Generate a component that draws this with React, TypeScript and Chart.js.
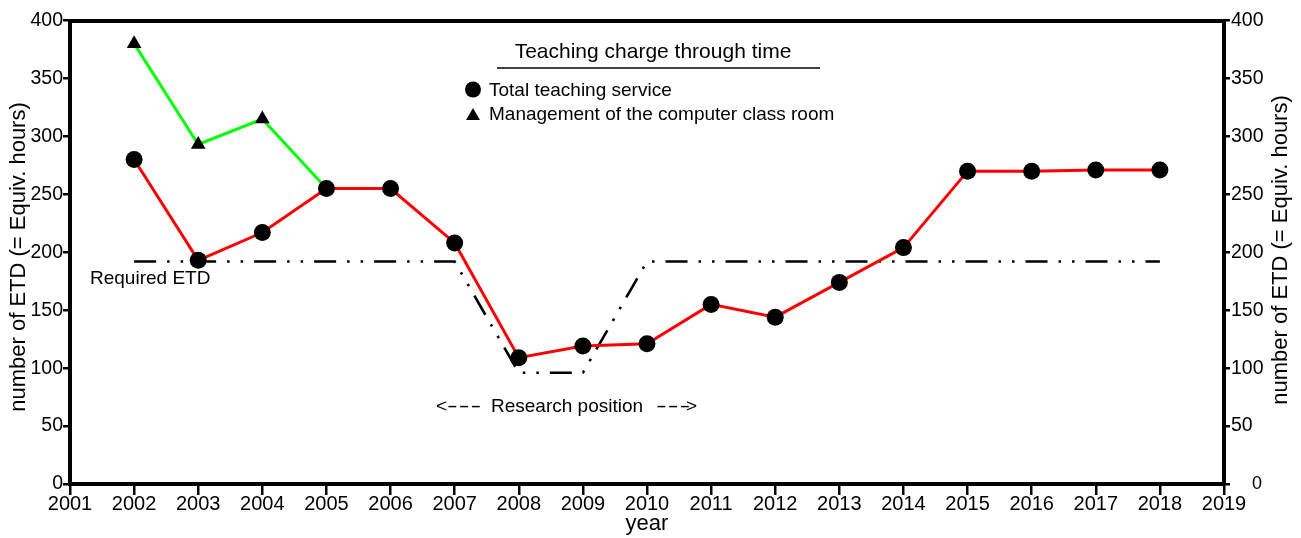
import React, { useEffect, useRef } from "react";
import { Chart, registerables } from "chart.js";

Chart.register(...registerables);

const FONT = "'Liberation Sans', Arial, Helvetica, sans-serif";

// ---- data ----
const years = [2002, 2003, 2004, 2005, 2006, 2007, 2008, 2009, 2010, 2011, 2012, 2013, 2014, 2015, 2016, 2017, 2018];
const totalService = [280, 193, 217, 255, 255, 208, 109, 119, 121, 155, 144, 174, 204, 270, 270, 271, 271];
const mgmtYears = [2002, 2003, 2004, 2005];
const mgmtValues = [380, 293, 315, 255];
const requiredYears = [2002, 2007, 2008, 2009, 2010, 2018];
const requiredValues = [192, 192, 96, 96, 192, 192];
const xMin = 2001;
const xMax = 2019;
const yMin = 0;
const yMax = 400;
const yStep = 50;

const titleText = "Teaching charge through time";
const legendLabels = ["Total teaching service", "Management of the computer class room"];
const yTitle = "number of ETD (= Equiv. hours)";
const xTitle = "year";
const requiredLabel = "Required ETD";
const researchLabel = "Research position";

function drawDashes(ctx: any, x: number, y: number) {
  ctx.save();
  ctx.translate(x, 0);
  ctx.scale(1.7, 1);
  try { ctx.letterSpacing = "0.6px"; } catch (e) {}
  ctx.fillText("---", 0, y);
  ctx.restore();
}

function drawVerticalTitle(ctx: any, x: number, y: number) {
  ctx.save();
  ctx.translate(x, y);
  ctx.rotate(-Math.PI / 2);
  ctx.textAlign = "center";
  ctx.textBaseline = "middle";
  ctx.fillText(yTitle, 0, 0);
  ctx.restore();
}

const overlayPlugin = {
  id: "overlay",
  afterDraw(chart: any) {
    const ctx = chart.ctx;
    ctx.save();
    ctx.fillStyle = "#000";
    ctx.strokeStyle = "#000";
    // title
    ctx.font = `21px ${FONT}`;
    ctx.textAlign = "center";
    ctx.textBaseline = "alphabetic";
    ctx.fillText(titleText, 653, 58);
    ctx.lineWidth = 1.5;
    ctx.beginPath();
    ctx.moveTo(497, 68);
    ctx.lineTo(820, 68);
    ctx.stroke();
    // legend
    ctx.font = `19px ${FONT}`;
    ctx.textAlign = "left";
    ctx.beginPath();
    ctx.arc(473, 89.5, 8, 0, Math.PI * 2);
    ctx.fill();
    ctx.fillText(legendLabels[0], 489, 96);
    const r = 8;
    const cx = 473, cy = 116;
    ctx.beginPath();
    ctx.moveTo(cx, cy - r);
    ctx.lineTo(cx + 0.866 * r, cy + 0.5 * r);
    ctx.lineTo(cx - 0.866 * r, cy + 0.5 * r);
    ctx.closePath();
    ctx.fill();
    ctx.fillText(legendLabels[1], 489, 120);
    // annotations
    ctx.fillText(requiredLabel, 90, 284);
    ctx.fillText("<", 436, 412);
    drawDashes(ctx, 447, 412);
    ctx.fillText(researchLabel, 491, 412);
    drawDashes(ctx, 656, 412);
    ctx.fillText(">", 686, 412);
    // right-axis zero label (offset in reference)
    ctx.font = `18px ${FONT}`;
    ctx.textBaseline = "middle";
    ctx.fillText("0", 1252, 484);
    // axis titles (both read bottom-to-top)
    ctx.font = `22px ${FONT}`;
    drawVerticalTitle(ctx, 18.5, 257);
    drawVerticalTitle(ctx, 1280.5, 250);
    ctx.restore();
  },
};

export default function App() {
  const ref = useRef<HTMLCanvasElement | null>(null);
  useEffect(() => {
    if (!ref.current) return;
    Chart.defaults.font.family = FONT;
    Chart.defaults.color = "#000";
    const xTickFont = { size: 20, family: FONT };
    const yTickFont = { size: 19.5, family: FONT };
    const titleFont = { size: 22, family: FONT };
    const chart = new Chart(ref.current, {
      type: "line",
      data: {
        datasets: [
          {
            label: legendLabels[0],
            data: years.map((x, i) => ({ x, y: totalService[i] })),
            borderColor: "#ff0000",
            borderWidth: 3,
            pointRadius: 8.5,
            pointBackgroundColor: "#000",
            pointBorderColor: "#000",
            pointBorderWidth: 0,
            tension: 0,
          },
          {
            label: legendLabels[1],
            data: mgmtYears.map((x, i) => ({ x, y: mgmtValues[i] })),
            borderColor: "#00ff00",
            borderWidth: 3,
            pointStyle: "triangle",
            pointRadius: [8.5, 8.5, 8.5, 0],
            pointBackgroundColor: "#000",
            pointBorderColor: "#000",
            pointBorderWidth: 0,
            tension: 0,
          },
          {
            label: requiredLabel,
            data: requiredYears.map((x, i) => ({ x, y: requiredValues[i] })),
            borderColor: "#000",
            borderWidth: 2.6,
            borderDash: [22, 11, 2.5, 11, 2.5, 11],
            borderCapStyle: "butt",
            pointRadius: 0,
            tension: 0,
          },
        ],
      },
      options: {
        animation: false,
        responsive: false,
        maintainAspectRatio: false,
        layout: { padding: 0 },
        plugins: { legend: { display: false }, tooltip: { enabled: false }, title: { display: false } },
        scales: {
          x: {
            type: "linear",
            position: "bottom",
            min: xMin,
            max: xMax,
            afterFit: (s: any) => { s.height = 54; },
            ticks: { stepSize: 1, font: xTickFont, padding: -3, callback: (v: any) => String(v), maxRotation: 0, autoSkip: false },
            grid: { drawOnChartArea: false, drawTicks: true, tickLength: 11, color: "#000", lineWidth: 2.5 },
            border: { display: true, width: 4, color: "#000" },
            title: { display: true, text: xTitle, font: titleFont, padding: { top: 0, bottom: 1 } },
          },
          x2: {
            type: "linear",
            position: "top",
            min: xMin,
            max: xMax,
            afterFit: (s: any) => { s.height = 20.5; },
            ticks: { display: false },
            grid: { drawOnChartArea: false, drawTicks: false },
            border: { display: true, width: 4, color: "#000" },
          },
          y: {
            type: "linear",
            position: "left",
            min: yMin,
            max: yMax,
            afterFit: (s: any) => { s.width = 70; },
            ticks: { stepSize: yStep, font: yTickFont, padding: 0 },
            grid: { drawOnChartArea: false, drawTicks: true, tickLength: 7, color: "#000", lineWidth: 2.5 },
            border: { display: true, width: 4, color: "#000" },
          },
          y2: {
            type: "linear",
            position: "right",
            min: yMin,
            max: yMax,
            afterFit: (s: any) => { s.width = 77; },
            ticks: { stepSize: yStep, font: yTickFont, padding: 1, callback: (v: any) => (v === 0 ? "" : String(v)) },
            grid: { drawOnChartArea: false, drawTicks: true, tickLength: 6, color: "#000", lineWidth: 2.5 },
            border: { display: true, width: 4, color: "#000" },
          },
        },
      },
      plugins: [overlayPlugin],
    } as any);
    return () => chart.destroy();
  }, []);
  return (
    <div style={{ position: "absolute", left: 0, top: 0, width: 1301, height: 538, background: "#fff" }}>
      <canvas ref={ref} width={1301} height={538} style={{ display: "block", width: 1301, height: 538 }} />
    </div>
  );
}
